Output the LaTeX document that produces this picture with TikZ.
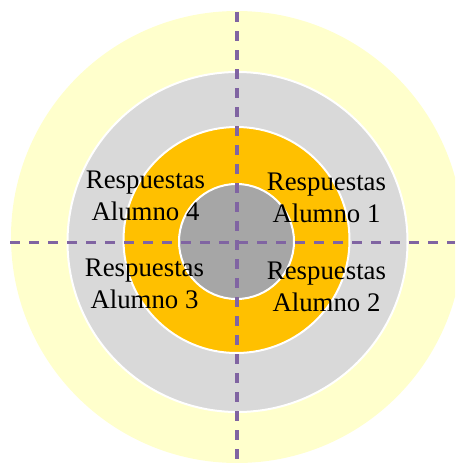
\documentclass[tikz,border=0pt]{standalone}
\usepackage{fontspec}
\setmainfont{Liberation Serif}
\definecolor{ringyellow}{HTML}{FFFFCC}
\definecolor{ringgray}{HTML}{D9D9D9}
\definecolor{ringorange}{HTML}{FFC000}
\definecolor{ringdark}{HTML}{A6A6A6}
\definecolor{axispurple}{HTML}{8064A2}
\tikzset{
  ring/.style={draw=white, line width=2pt},
  axisline/.style={draw=axispurple, line width=3.2pt, dash pattern=on 10pt off 9pt},
  lbl/.style={align=center, font=\fontsize{26.8}{31.5}\selectfont, inner sep=0pt, anchor=center}
}
\begin{document}
\begin{tikzpicture}[x=1pt,y=-1pt]
\useasboundingbox (0,0) rectangle (455,463);
\begin{scope}
\clip (0,0) rectangle (455,463);
\fill[ringyellow] (237,237) circle (226);
\end{scope}
\fill[ringgray, ring] (237.5,242) circle (170);
\fill[ringorange, ring] (236.5,240) circle (113);
\fill[ringdark, ring] (236.5,241.5) circle (57.5);
\coordinate (top) at (237,12);
\coordinate (bottom) at (237,463);
\coordinate (left) at (10,242.5);
\coordinate (right) at (455,242.5);
\draw[axisline] (top) -- (bottom);
\draw[axisline] (left) -- (right);
\node[lbl] (a4) at (145.5,196) {Respuestas\\Alumno 4};
\node[lbl] (a1) at (326.5,198) {Respuestas\\Alumno 1};
\node[lbl] (a3) at (144.5,284) {Respuestas\\Alumno 3};
\node[lbl] (a2) at (326.5,287) {Respuestas\\Alumno 2};
\end{tikzpicture}
\end{document}
